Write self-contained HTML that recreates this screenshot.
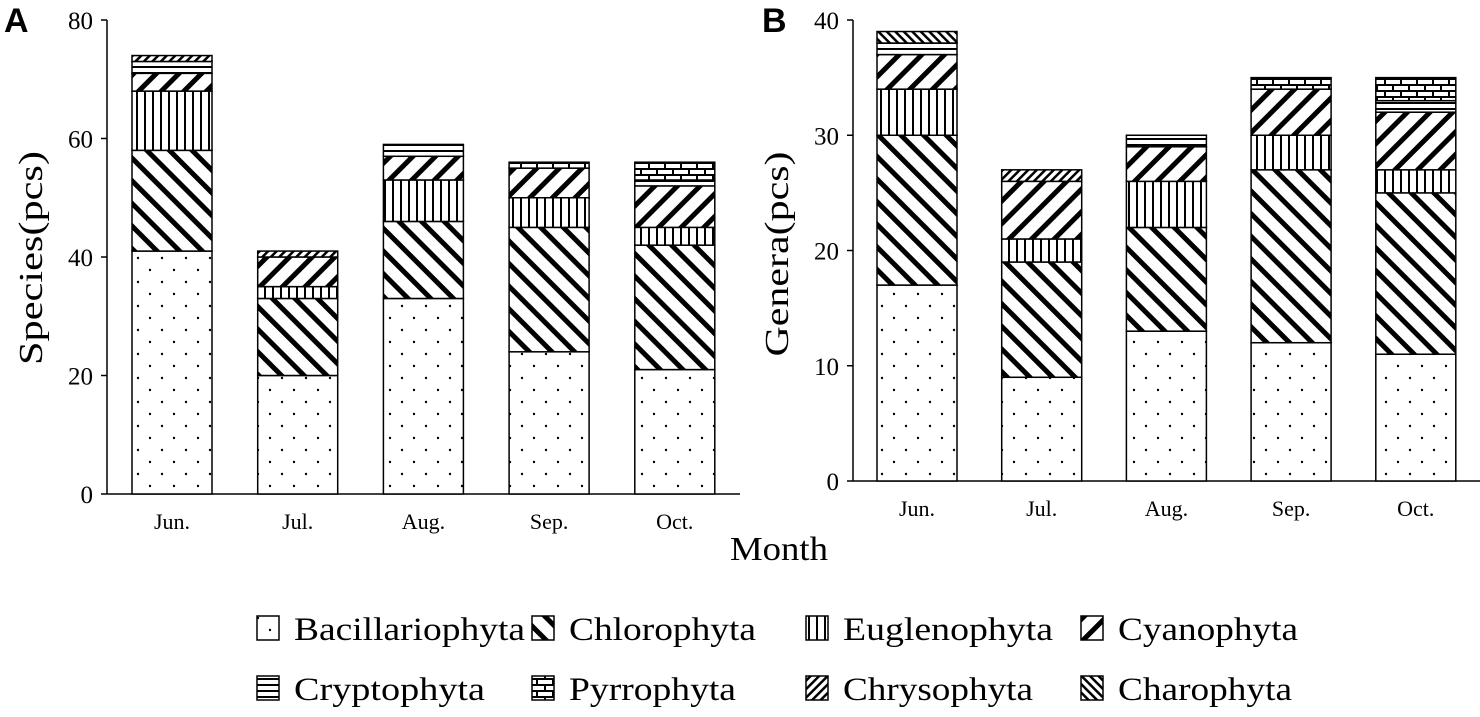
<!DOCTYPE html>
<html><head><meta charset="utf-8"><style>
body{margin:0;background:#fff}
svg text{font-family:"Liberation Serif",serif}
</style></head><body>
<svg id="c" width="1480" height="712" viewBox="0 0 1480 712" xmlns="http://www.w3.org/2000/svg">
<defs>
<pattern id="p0" width="24" height="24" patternUnits="userSpaceOnUse"><rect width="24" height="24" fill="#fff"/><circle cx="6" cy="6" r="1.2" fill="#000"/><circle cx="18" cy="18" r="1.2" fill="#000"/></pattern>
<pattern id="p1" width="16" height="16" patternUnits="userSpaceOnUse" patternTransform="rotate(45)"><rect width="16" height="16" fill="#fff"/><rect x="0" y="0" width="16" height="5" fill="#000"/></pattern>
<pattern id="p2" width="8" height="8" patternUnits="userSpaceOnUse"><rect width="8" height="8" fill="#fff"/><rect x="0" y="0" width="2" height="8" fill="#000"/></pattern>
<pattern id="p3" width="16" height="16" patternUnits="userSpaceOnUse" patternTransform="rotate(-45)"><rect width="16" height="16" fill="#fff"/><rect x="0" y="0" width="16" height="5" fill="#000"/></pattern>
<pattern id="p4" width="6" height="6" patternUnits="userSpaceOnUse"><rect width="6" height="6" fill="#fff"/><rect x="0" y="0" width="6" height="2" fill="#000"/></pattern>
<pattern id="p5" width="16" height="12" patternUnits="userSpaceOnUse"><rect width="16" height="12" fill="#fff"/><rect y="0" width="16" height="2" fill="#000"/><rect y="6" width="16" height="2" fill="#000"/><rect x="0" y="0" width="2" height="6" fill="#000"/><rect x="8" y="6" width="2" height="6" fill="#000"/></pattern>
<pattern id="p6" width="6" height="6" patternUnits="userSpaceOnUse" patternTransform="rotate(-45)"><rect width="6" height="6" fill="#fff"/><rect width="6" height="2.5" fill="#000"/></pattern>
<pattern id="p7" width="6" height="6" patternUnits="userSpaceOnUse" patternTransform="rotate(45)"><rect width="6" height="6" fill="#fff"/><rect width="6" height="2.5" fill="#000"/></pattern>
</defs>
<g id="gA"></g>
<g id="gB"></g>
<g id="leg"></g>
</svg>
<script>
const months = ["Jun.","Jul.","Aug.","Sep.","Oct."];
const groups = ["Bacillariophyta","Chlorophyta","Euglenophyta","Cyanophyta","Cryptophyta","Pyrrophyta","Chrysophyta","Charophyta"];
// panel A species counts per group, per month
const speciesBac = [41,20,33,24,21];
const speciesChl = [17,13,13,21,21];
const speciesEug = [10,2,7,5,3];
const speciesCya = [3,5,4,5,7];
const speciesCry = [2,0,2,0,1];
const speciesPyr = [0,0,0,1,3];
const speciesChr = [1,1,0,0,0];
const speciesCha = [0,0,0,0,0];
// panel B genera counts
const generaBac = [17,9,13,12,11];
const generaChl = [13,10,9,15,14];
const generaEug = [4,2,4,3,2];
const generaCya = [3,5,3,4,5];
const generaCry = [1,0,1,0,1];
const generaPyr = [0,0,0,1,2];
const generaChr = [0,1,0,0,0];
const generaCha = [1,0,0,0,0];
const ticksA = [0,20,40,60,80];
const ticksB = [0,10,20,30,40];

const NS="http://www.w3.org/2000/svg";
function mk(tag,attrs,parent){const e=document.createElementNS(NS,tag);for(const k in attrs)e.setAttribute(k,attrs[k]);parent.appendChild(e);return e;}

function drawPanel(g,cfg,series,ticks,prefix){
  const y=v=>cfg.y0-(v-ticks[0])/(ticks[ticks.length-1]-ticks[0])*(cfg.y0-cfg.yTop);
  const x=i=>cfg.x0+cfg.pad+i*cfg.step;
  const ya=mk('line',{x1:cfg.x0,y1:cfg.yTop,x2:cfg.x0,y2:cfg.y0,stroke:'#000','stroke-width':1.5},g);
  
  
  const xa=mk('line',{x1:cfg.x0,y1:cfg.y0,x2:cfg.xEnd,y2:cfg.y0,stroke:'#000','stroke-width':1.5},g);
  
  
  ticks.forEach(t=>{
    const tl=mk('line',{x1:cfg.x0-6,y1:y(t),x2:cfg.x0,y2:y(t),stroke:'#000','stroke-width':1.5},g);
    
    
    const tx=mk('text',{x:cfg.x0-14,y:y(t)+9,'text-anchor':'end','font-size':25},g);tx.textContent=t;
    
    
  });
  months.forEach((m,i)=>{
    let acc=0;
    series.forEach((s,k)=>{
      const v=s[i]; if(!v)return;
      const r=mk('rect',{x:x(i),y:y(acc+v),width:cfg.bw,height:y(acc)-y(acc+v),fill:'url(#p'+k+')',stroke:'#000','stroke-width':1.5},g);
      
      
      acc+=v;
    });
    const lb=mk('text',{x:x(i)+cfg.bw/2,y:cfg.y0+35,'text-anchor':'middle','font-size':22},g);lb.textContent=m;
    
    
  });
}
const gA=document.getElementById('gA'),gB=document.getElementById('gB');
drawPanel(gA,{x0:107,xEnd:740,y0:494,yTop:20,pad:25,step:125.7,bw:80},[speciesBac,speciesChl,speciesEug,speciesCya,speciesCry,speciesPyr,speciesChr,speciesCha],ticksA,'a');
drawPanel(gB,{x0:853,xEnd:1480,y0:481,yTop:20,pad:24,step:124.7,bw:80},[generaBac,generaChl,generaEug,generaCya,generaCry,generaPyr,generaChr,generaCha],ticksB,'b');

function txt(p,s,a,name){const t=mk('text',a,p);t.textContent=s;return t;}
txt(gA,'A',{x:4,y:32,'font-size':34,'font-weight':'bold',style:'font-family:"Liberation Sans",sans-serif'},'panel-label-a');
txt(gB,'B',{x:762,y:32,'font-size':34,'font-weight':'bold',style:'font-family:"Liberation Sans",sans-serif'},'panel-label-b');
txt(gA,'Species(pcs)',{x:0,y:0,'font-size':34,'text-anchor':'middle',textLength:214,lengthAdjust:'spacingAndGlyphs',transform:'translate(42,258) rotate(-90)'},'y-axis-title-a');
txt(gB,'Genera(pcs)',{x:0,y:0,'font-size':34,'text-anchor':'middle',textLength:205,lengthAdjust:'spacingAndGlyphs',transform:'translate(788,254) rotate(-90)'},'y-axis-title-b');
txt(gA,'Month',{x:730,y:560,'font-size':34,textLength:98,lengthAdjust:'spacingAndGlyphs'},'x-axis-title');

const leg=document.getElementById('leg');
const lx=[257,532,806,1081], ly=[616,676];
const lw=[231,187,210,180,191,167,190,174];
groups.forEach((g,k)=>{
  const cx=lx[k%4], cy=ly[Math.floor(k/4)];
  const r=mk('rect',{x:cx,y:cy,width:22,height:24,fill:'url(#p'+k+')',stroke:'#000','stroke-width':1.5},leg);
  
  
  const t=mk('text',{x:cx+37,y:cy+24,'font-size':33,textLength:lw[k],lengthAdjust:'spacingAndGlyphs'},leg);t.textContent=g;
  
  
});
</script>
</body></html>
